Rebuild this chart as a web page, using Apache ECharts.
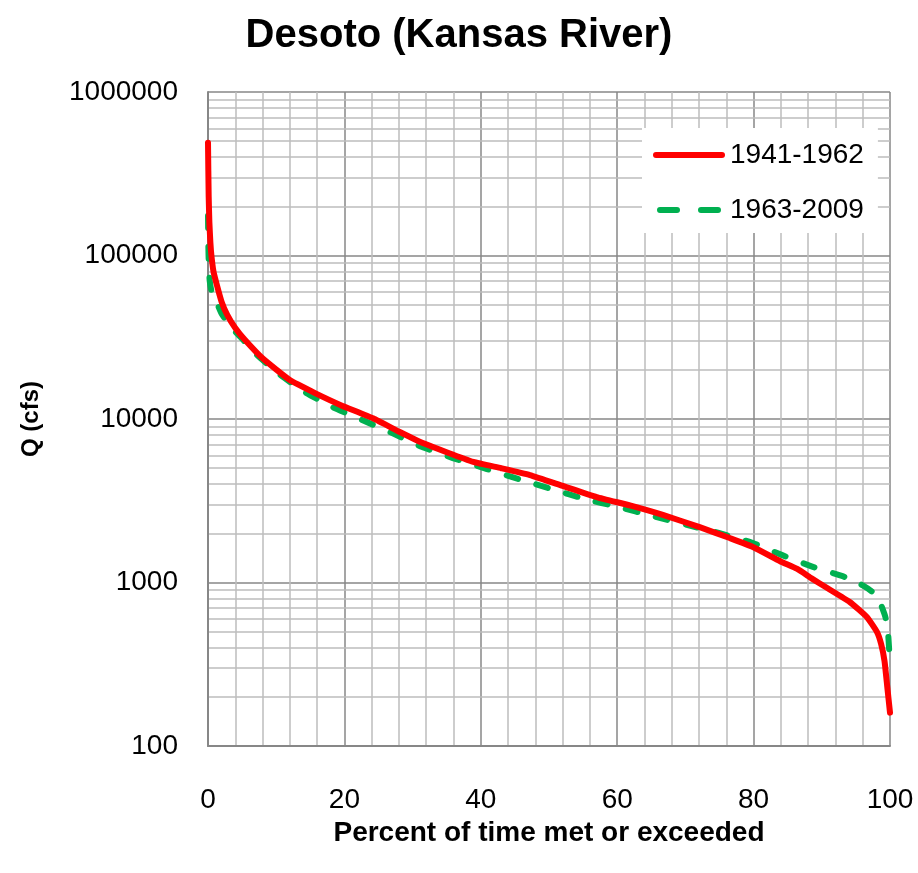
<!DOCTYPE html>
<html>
<head>
<meta charset="utf-8">
<script src="https://cdn.jsdelivr.net/npm/echarts@6/dist/echarts.min.js"></script>
<style>
html,body{margin:0;padding:0;background:#fff;}
#chart{width:918px;height:873px;}
</style>
</head>
<body>
<div id="chart"></div>
<script>
// ---- data ----
const titleText = "Desoto (Kansas River)";
const xAxisTitle = "Percent of time met or exceeded";
const yAxisTitle = "Q (cfs)";
const seriesNames = ["1941-1962", "1963-2009"];

const pctA = [0, 0.05, 0.1, 0.2, 0.35, 0.5, 0.8, 1.3, 2, 2.8, 4, 5.4, 8, 12, 15.7, 19.4, 24.2, 28.2, 31.5, 38.9, 43, 47.2, 52, 57, 62, 66.7, 72.1, 76.5, 79.9, 83.9, 86.4, 88.5, 90.8, 94.1, 96.6, 98.1, 98.7, 99.2, 99.6, 100];
const qA   = [490000, 330000, 230000, 160000, 120000, 100000, 80000, 66000, 52000, 43500, 36000, 30500, 23500, 17300, 14400, 12200, 10100, 8300, 7130, 5460, 5000, 4540, 3900, 3330, 2950, 2590, 2180, 1870, 1650, 1350, 1210, 1060, 925, 760, 615, 497, 420, 330, 230, 160];

const pctB = [0, 0.03, 0.08, 0.15, 0.25, 0.5, 1, 2, 3.5, 5, 7.2, 10.6, 14.2, 18.3, 22.6, 27, 31.4, 35.9, 40.9, 45.5, 50.4, 55.3, 60.1, 65.2, 70.2, 74.9, 79.8, 84.2, 88.7, 93.4, 96, 97.4, 98.5, 99.3, 99.7, 100];
const qB   = [175000, 130000, 100000, 82000, 70000, 61000, 55000, 44000, 36000, 31000, 24600, 18600, 14600, 11800, 9860, 8200, 6740, 5770, 4940, 4300, 3730, 3240, 2900, 2550, 2250, 2010, 1750, 1470, 1245, 1080, 960, 875, 760, 620, 500, 320];

const xMin = 0, xMax = 100, xStep = 20;
const yMin = 100, yMax = 1000000;
const decades = [100, 1000, 10000, 100000];
const minorMultipliers = [2, 3, 4, 5, 6, 7, 8, 9];

// ---- build ----
const dataA = pctA.map((p, i) => [p, qA[i]]);
const dataB = pctB.map((p, i) => [p, qB[i]]);
const minorY = [];
decades.forEach(d => minorMultipliers.forEach(m => minorY.push({ yAxis: d * m })));

const font = "Liberation Sans, Arial, sans-serif";
const majorGrid = "#878787";
const minorGrid = "#bdbdbd";
const redColor = "#ff0000";
const greenColor = "#00b050";

const iconSolid = 'path://M3,0 H69 A3,3 0 0 1 69,6 H3 A3,3 0 0 1 3,0 Z';
const iconDash = 'path://M3,0 H20 A3,3 0 0 1 20,6 H3 A3,3 0 0 1 3,0 Z M44,0 H61 A3,3 0 0 1 61,6 H44 A3,3 0 0 1 44,0 Z';

const chart = echarts.init(document.getElementById('chart'), null, { renderer: 'canvas' });
chart.setOption({
  animation: false,
  backgroundColor: '#ffffff',
  title: {
    text: titleText,
    left: 'center',
    top: 11,
    textStyle: { fontFamily: font, fontSize: 40, fontWeight: 'bold', color: '#000' }
  },
  grid: { left: 208, right: 28, top: 92, bottom: 127, containLabel: false },
  legend: {
    data: [
      { name: seriesNames[0], icon: iconSolid },
      { name: seriesNames[1], icon: iconDash }
    ],
    orient: 'vertical',
    left: 642,
    top: 128,
    width: 240,
    padding: [12, 14, 8, 11],
    itemGap: 25,
    itemWidth: 72,
    itemHeight: 6,
    itemTextGap: 6,
    z: 10,
    backgroundColor: '#ffffff',
    textStyle: { fontFamily: font, fontSize: 28, color: '#000', lineHeight: 30 }
  },
  xAxis: {
    type: 'value',
    min: xMin, max: xMax, interval: xStep,
    name: xAxisTitle,
    nameLocation: 'middle',
    nameGap: 67,
    nameTextStyle: { fontFamily: font, fontSize: 28, fontWeight: 'bold', color: '#000' },
    axisLine: { show: true, lineStyle: { color: majorGrid, width: 2 } },
    axisTick: { show: false },
    axisLabel: { fontFamily: font, fontSize: 28, color: '#000', margin: 40 },
    splitLine: { show: true, lineStyle: { color: majorGrid, width: 1.5 } },
    minorTick: { show: false, splitNumber: 5 },
    minorSplitLine: { show: true, lineStyle: { color: minorGrid, width: 1.5 } }
  },
  yAxis: {
    type: 'log',
    logBase: 10,
    min: yMin, max: yMax,
    name: yAxisTitle,
    nameLocation: 'middle',
    nameGap: 165,
    nameRotate: 90,
    nameTextStyle: { fontFamily: font, fontSize: 24, fontWeight: 'bold', color: '#000' },
    axisLine: { show: true, lineStyle: { color: majorGrid, width: 2 } },
    axisTick: { show: false },
    axisLabel: {
      fontFamily: font, fontSize: 28, color: '#000', margin: 30,
      formatter: v => String(Math.round(v))
    },
    splitLine: { show: true, lineStyle: { color: majorGrid, width: 1.5 } },
    minorSplitLine: { show: false }
  },
  series: [
    {
      name: 'minor-grid',
      type: 'line',
      data: [],
      silent: true,
      z: 0,
      markLine: {
        silent: true,
        z: 0,
        symbol: ['none', 'none'],
        label: { show: false },
        lineStyle: { color: minorGrid, width: 1.5, type: 'solid' },
        emphasis: { disabled: true },
        data: minorY
      }
    },
    {
      name: seriesNames[0],
      type: 'line',
      data: dataA,
      showSymbol: false,
      symbol: 'none',
      smooth: 0.15,
      z: 3,
      lineStyle: { color: redColor, width: 6, cap: 'round', join: 'round' },
      itemStyle: { color: redColor }
    },
    {
      name: seriesNames[1],
      type: 'line',
      data: dataB,
      showSymbol: false,
      symbol: 'none',
      smooth: 0.15,
      z: 2,
      lineStyle: { color: greenColor, width: 6, type: [12, 19], cap: 'round', join: 'round' },
      itemStyle: { color: greenColor }
    }
  ]
});
</script>
</body>
</html>
